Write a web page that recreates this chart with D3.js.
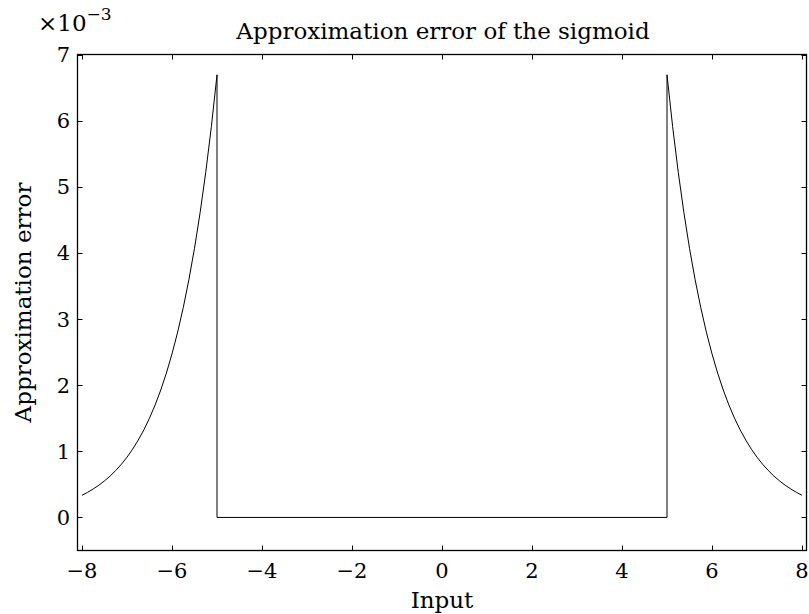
<!DOCTYPE html>
<html><head><meta charset="utf-8">
<script src="https://cdn.jsdelivr.net/npm/d3@7"></script>
<style>body{margin:0;background:#fff}svg{display:block}text{font-family:"DejaVu Serif",serif;fill:#000}</style>
</head><body><svg id="c" width="809" height="614"></svg>
<script>
// Input values (x) and approximation error (×10^-3)
const inputs = [-8,-7.875,-7.75,-7.625,-7.5,-7.375,-7.25,-7.125,-7,-6.875,-6.75,-6.625,-6.5,-6.375,-6.25,-6.125,-6,-5.875,-5.75,-5.625,-5.5,-5.375,-5.25,-5.125,-5,
  -5, 5,
  5,5.125,5.25,5.375,5.5,5.625,5.75,5.875,6,6.125,6.25,6.375,6.5,6.625,6.75,6.875,7,7.125,7.25,7.375,7.5,7.625,7.75,7.875,8];
const errors = [0.335,0.380,0.431,0.488,0.553,0.626,0.710,0.804,0.911,1.032,1.170,1.325,1.501,1.701,1.927,2.183,2.473,2.801,3.173,3.594,4.070,4.610,5.220,5.911,6.693,
  0, 0,
  6.693,5.911,5.220,4.610,4.070,3.594,3.173,2.801,2.473,2.183,1.927,1.701,1.501,1.325,1.170,1.032,0.911,0.804,0.710,0.626,0.553,0.488,0.431,0.380,0.335];
const xTicks = [-8,-6,-4,-2,0,2,4,6,8];
const yTicks = [0,1,2,3,4,5,6,7];
const title = "Approximation error of the sigmoid";
const xLabel = "Input";
const yLabel = "Approximation error";

const svg = d3.select("#c");
const L = 77.5, R = 806.5, T = 54.5, B = 550.5;
const x = d3.scaleLinear().domain([-8.1, 8.1]).range([L, R]);
const y = d3.scaleLinear().domain([-0.5, 7]).range([B, T]);
const fs = 21, fl = 23;

const tl = 5;
const g = svg.append("g").attr("stroke", "#000").attr("stroke-width", 1);
xTicks.forEach(v => {
  const px = Math.round(x(v)) + 0.5;
  g.append("line").attr("x1", px).attr("x2", px).attr("y1", B).attr("y2", B - tl);
  g.append("line").attr("x1", px).attr("x2", px).attr("y1", T).attr("y2", T + tl);
});
yTicks.forEach(v => {
  const py = Math.round(y(v)) + 0.5;
  g.append("line").attr("x1", L).attr("x2", L + tl).attr("y1", py).attr("y2", py);
  g.append("line").attr("x1", R).attr("x2", R - tl).attr("y1", py).attr("y2", py);
});

const line = d3.line().x((d, i) => x(inputs[i])).y(d => y(d));
svg.append("path").datum(errors).attr("d", line).attr("fill", "none").attr("stroke", "#000").attr("stroke-width", 1);

svg.append("rect").attr("x", L).attr("y", T).attr("width", R - L).attr("height", B - T)
  .attr("fill", "none").attr("stroke", "#000").attr("stroke-width", 1.3);

xTicks.forEach(v => {
  svg.append("text").attr("x", x(v)).attr("y", 578).attr("text-anchor", "middle")
    .attr("font-size", fs).text(v < 0 ? "\u2212" + Math.abs(v) : v);
});
yTicks.forEach(v => {
  svg.append("text").attr("x", 70).attr("y", y(v) + 7.5).attr("text-anchor", "end")
    .attr("font-size", fs).text(v);
});

const m = svg.append("text").attr("x", 38).attr("y", 31).attr("font-size", 23);
m.append("tspan").text("\u00d710");
m.append("tspan").attr("dy", -11).attr("font-size", 17).text("\u22123");

svg.append("text").attr("x", (L + R) / 2 + 1).attr("y", 39).attr("text-anchor", "middle").attr("font-size", fl).text(title);
svg.append("text").attr("x", (L + R) / 2).attr("y", 608).attr("text-anchor", "middle").attr("font-size", fl).text(xLabel);
svg.append("text").attr("transform", `translate(31,${(T + B) / 2}) rotate(-90)`).attr("text-anchor", "middle").attr("font-size", fl).text(yLabel);
</script></body></html>
